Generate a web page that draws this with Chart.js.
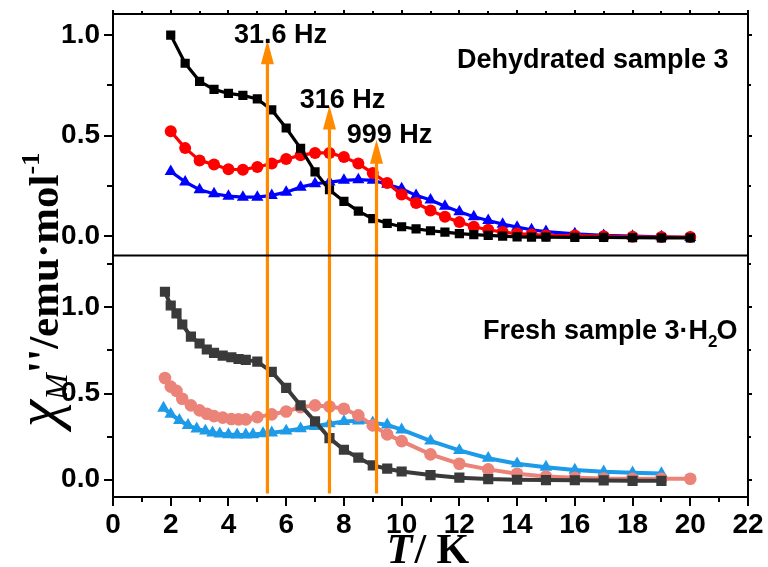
<!DOCTYPE html>
<html><head><meta charset="utf-8">
<script src="https://cdn.jsdelivr.net/npm/chart.js@4.4.0/dist/chart.umd.min.js"></script>
<style>html,body{margin:0;padding:0;background:#fff;}#wrap{width:768px;height:567px;position:relative;}</style>
</head><body><div id="wrap"><canvas id="c" width="768" height="567"></canvas></div>
<script>
// ---- Top panel: Dehydrated sample 3 ----
const topT = [2,2.5,3,3.5,4,4.5,5,5.5,6,6.5,7,7.5,8,8.5,9,9.5,10,10.5,11,11.5,12,12.5,13,13.5,14,14.5,15,16,17,18,19,20];
const top31_6Hz = [1.0,0.86,0.77,0.73,0.71,0.70,0.683,0.628,0.538,0.437,0.32,0.231,0.173,0.125,0.087,0.064,0.047,0.036,0.027,0.02,0.013,0.008,0.004,0.0,-0.003,-0.005,-0.005,-0.006,-0.006,-0.007,-0.008,-0.008];
const top316Hz = [0.522,0.438,0.377,0.356,0.333,0.331,0.344,0.361,0.384,0.402,0.414,0.414,0.394,0.361,0.314,0.264,0.207,0.165,0.128,0.097,0.07,0.047,0.032,0.021,0.013,0.008,0.004,0.003,0.0,-0.003,-0.004,-0.004];
const top999Hz = [0.322,0.27,0.231,0.211,0.199,0.194,0.194,0.203,0.219,0.244,0.261,0.269,0.278,0.281,0.278,0.258,0.236,0.203,0.18,0.149,0.122,0.097,0.078,0.06,0.045,0.032,0.023,0.012,0.004,0.0,-0.003,-0.007];

// ---- Bottom panel: Fresh sample 3·H2O ----
const bottomT = [1.8,2.0,2.2,2.4,2.7,3.0,3.25,3.5,3.8,4.1,4.35,4.6,5.0,5.5,6.0,6.5,7.0,7.5,8.0,8.5,9.0,9.5,10,11,12,13,14,15,16,17,18,19];
const bottom31_6Hz = [1.09,1.01,0.965,0.9,0.83,0.79,0.755,0.735,0.72,0.71,0.70,0.695,0.685,0.625,0.533,0.431,0.338,0.241,0.174,0.128,0.083,0.064,0.048,0.027,0.012,0.004,0.0,-0.002,-0.003,-0.004,-0.006,-0.006];
const bottomRedT = [1.8,2.0,2.2,2.4,2.7,3.0,3.25,3.5,3.8,4.1,4.35,4.6,5.0,5.5,6.0,6.5,7.0,7.5,8.0,8.5,9.0,9.5,10,11,12,13,14,15,16,17,18,19,20];
const bottom316Hz = [0.59,0.54,0.515,0.47,0.431,0.402,0.383,0.369,0.36,0.352,0.35,0.35,0.363,0.379,0.396,0.421,0.431,0.425,0.412,0.373,0.315,0.263,0.224,0.147,0.093,0.06,0.035,0.019,0.012,0.007,0.006,0.006,0.006];
const bottomBlueT = [1.75,2.0,2.3,2.6,2.9,3.2,3.45,3.7,4.0,4.3,4.6,4.85,5.2,5.5,6.0,6.5,7.0,7.5,8.0,8.5,9.0,9.5,10,11,12,13,14,15,16,17,18,19];
const bottom999Hz = [0.415,0.38,0.345,0.315,0.295,0.283,0.272,0.266,0.262,0.26,0.26,0.262,0.268,0.272,0.283,0.296,0.31,0.325,0.338,0.342,0.33,0.318,0.29,0.225,0.17,0.125,0.093,0.073,0.056,0.046,0.04,0.036];

// ---- Arrows (peak-shift markers) ----
const arrowT = [5.35, 7.5, 9.13];
const arrowTipY = [0.975, 0.65, 0.48];   // in top-panel units
const arrowBaseY = -0.08;                // in bottom-panel units
const arrowLabels = ['31.6 Hz', '316 Hz', '999 Hz'];

// ---- Ticks ----
const xTicks = [0,2,4,6,8,10,12,14,16,18,20,22];
const xMinor = [1,3,5,7,9,11,13,15,17,19,21];
const yTicks = [0.0,0.5,1.0];
const yMinorTop = [0.25,0.75];
const yMinorBottom = [0.25,0.75,1.25];

const panelTitles = ['Dehydrated sample 3', 'Fresh sample 3\u00b7H', '2', 'O'];

const SANS = "'Liberation Sans', Arial, sans-serif";
const SERIF = "'Liberation Serif', 'Times New Roman', serif";
const ORANGE = '#ff8a00';

function pts(xs, ys){ return xs.map((x,i)=>({x:x, y:ys[i]})); }
function ds(label, xs, ys, axis, color, style, r, bw){
  return {label, data: pts(xs,ys), yAxisID: axis, borderColor: color, backgroundColor: color,
    pointBackgroundColor: color, pointBorderColor: color, pointBorderWidth: 0,
    pointStyle: style, pointRadius: r, pointHoverRadius: r, borderWidth: bw, tension: 0, fill: false};
}

function fixPad(s){ s.paddingLeft=0; s.paddingRight=0; s.paddingTop=0; s.paddingBottom=0; }

const decor = {
  id: 'decor',
  afterDatasetsDraw(chart){
    const c = chart.ctx, a = chart.chartArea;
    const x = chart.scales.x, yT = chart.scales.yT, yB = chart.scales.yB;
    c.save();
    // arrows
    c.strokeStyle = ORANGE; c.fillStyle = ORANGE; c.lineWidth = 3.2;
    arrowT.forEach((t,i)=>{
      const px = x.getPixelForValue(t);
      const tip = yT.getPixelForValue(arrowTipY[i]);
      const base = yB.getPixelForValue(arrowBaseY);
      const hl = 24, hw = 6.5;
      c.beginPath(); c.moveTo(px, base); c.lineTo(px, tip + hl - 2); c.stroke();
      c.beginPath(); c.moveTo(px, tip); c.lineTo(px - hw, tip + hl); c.lineTo(px + hw, tip + hl); c.closePath(); c.fill();
    });
    // frame
    c.strokeStyle = '#000'; c.lineWidth = 2;
    c.strokeRect(a.left, a.top, a.right - a.left, a.bottom - a.top);
    c.beginPath(); c.moveTo(a.left, yT.bottom); c.lineTo(a.right, yT.bottom); c.stroke();
    // x ticks
    const xt = (v, lb, lt) => {
      const px = Math.round(x.getPixelForValue(v));
      c.beginPath(); c.moveTo(px, a.bottom); c.lineTo(px, a.bottom + lb);
      c.moveTo(px, a.top); c.lineTo(px, a.top - lt); c.stroke();
    };
    xTicks.forEach(v=>xt(v, 9, 4));
    xMinor.forEach(v=>xt(v, 5, 3));
    // y ticks
    const yt = (s, v, ll, lr) => {
      const py = Math.round(s.getPixelForValue(v));
      c.beginPath(); c.moveTo(a.left - ll, py); c.lineTo(a.left, py);
      c.moveTo(a.right, py); c.lineTo(a.right + lr, py); c.stroke();
    };
    [yT, yB].forEach(s=>yTicks.forEach(v=>yt(s, v, 9, 4)));
    yMinorTop.forEach(v=>yt(yT, v, 6, 3));
    yMinorBottom.forEach(v=>yt(yB, v, 6, 3));
    c.restore();
  },
  afterDraw(chart){
    const c = chart.ctx, x = chart.scales.x, yT = chart.scales.yT;
    c.save();
    c.fillStyle = '#000';
    // arrow labels
    c.font = 'bold 27px ' + SANS; c.textAlign = 'center'; c.textBaseline = 'alphabetic';
    arrowT.forEach((t,i)=>{
      const px = x.getPixelForValue(t), tip = yT.getPixelForValue(arrowTipY[i]);
      c.fillText(arrowLabels[i], px + 13, tip + 3);
    });
    // panel titles
    c.textAlign = 'left';
    c.fillText(panelTitles[0], 457, 68);
    let px = 483; const by = 339;
    c.fillText(panelTitles[1], px, by); px += c.measureText(panelTitles[1]).width;
    c.font = 'bold 17px ' + SANS; c.fillText(panelTitles[2], px, by + 8); px += c.measureText(panelTitles[2]).width - 1;
    c.font = 'bold 27px ' + SANS; c.fillText(panelTitles[3], px, by);
    // x title
    c.font = 'italic bold 42px ' + SERIF;
    const w1 = c.measureText('T').width;
    c.font = 'bold 42px ' + SERIF;
    const w2 = c.measureText('/ K').width;
    let sx = 428 - (w1 + w2 + 2) / 2;
    c.font = 'italic bold 42px ' + SERIF; c.fillText('T', sx, 563);
    c.font = 'bold 42px ' + SERIF; c.fillText('/ K', sx + w1 + 2, 563);
    // y title (rotated)
    c.translate(58, 290); c.rotate(-Math.PI/2);
    const parts = [
      {t:'\u03c7', f:'italic 62px ' + SERIF, dy:0},
      {t:'M', f:'italic 32px ' + SERIF, dy:9},
      {t:"''", f:'bold 44px ' + SERIF, dy:0},
      {t:'/emu\u00b7mol', f:'bold 43px ' + SERIF, dy:0},
      {t:'-1', f:'bold 26px ' + SERIF, dy:-19}
    ];
    let tw = 0; parts.forEach(p=>{ c.font = p.f; p.w = c.measureText(p.t).width; tw += p.w; });
    let cx = -tw/2;
    parts.forEach(p=>{ c.font = p.f; c.fillText(p.t, cx, p.dy); cx += p.w; });
    c.restore();
  }
};

const tickFont = {family: SANS, size: 28, weight: 'bold'};
new Chart(document.getElementById('c'), {
  type: 'line',
  data: { datasets: [
    ds('31.6 Hz dehydrated', topT, top31_6Hz, 'yT', '#000000', 'rect', 6.5, 3.2),
    ds('316 Hz dehydrated', topT, top316Hz, 'yT', '#ff0000', 'circle', 6, 3.2),
    ds('999 Hz dehydrated', topT, top999Hz, 'yT', '#0000ff', 'triangle', 7, 3.2),
    ds('31.6 Hz fresh', bottomT, bottom31_6Hz, 'yB', '#3a3a3a', 'rect', 7.2, 4),
    ds('316 Hz fresh', bottomRedT, bottom316Hz, 'yB', '#ec8378', 'circle', 6.3, 4),
    ds('999 Hz fresh', bottomBlueT, bottom999Hz, 'yB', '#1e9be8', 'triangle', 7.3, 4)
  ]},
  options: {
    responsive: false, animation: false, devicePixelRatio: 1,
    layout: {padding: {top: 14, right: 20, left: 0, bottom: 0}},
    plugins: {legend: {display: false}, tooltip: {enabled: false}},
    scales: {
      x: {type: 'linear', min: 0, max: 22,
        afterBuildTicks: s => { s.ticks = xTicks.map(v=>({value:v})); },
        ticks: {font: tickFont, color: '#000', padding: 11, maxRotation: 0, autoSkip: false},
        grid: {display: false, drawTicks: false}, border: {display: false},
        afterFit: s => { s.height = 70; fixPad(s); }},
      yB: {type: 'linear', position: 'left', stack: 'panels', stackWeight: 1, min: -0.1, max: 1.3,
        afterBuildTicks: s => { s.ticks = yTicks.map(v=>({value:v})); },
        ticks: {font: tickFont, color: '#000', padding: 13, callback: v => v.toFixed(1)},
        grid: {display: false, drawTicks: false}, border: {display: false},
        afterFit: s => { s.width = 113; fixPad(s); }},
      yT: {type: 'linear', position: 'left', stack: 'panels', stackWeight: 1, min: -0.096, max: 1.105,
        afterBuildTicks: s => { s.ticks = yTicks.map(v=>({value:v})); },
        ticks: {font: tickFont, color: '#000', padding: 13, callback: v => v.toFixed(1)},
        grid: {display: false, drawTicks: false}, border: {display: false},
        afterFit: s => { s.width = 113; fixPad(s); }}
    }
  },
  plugins: [decor]
});
</script></body></html>
